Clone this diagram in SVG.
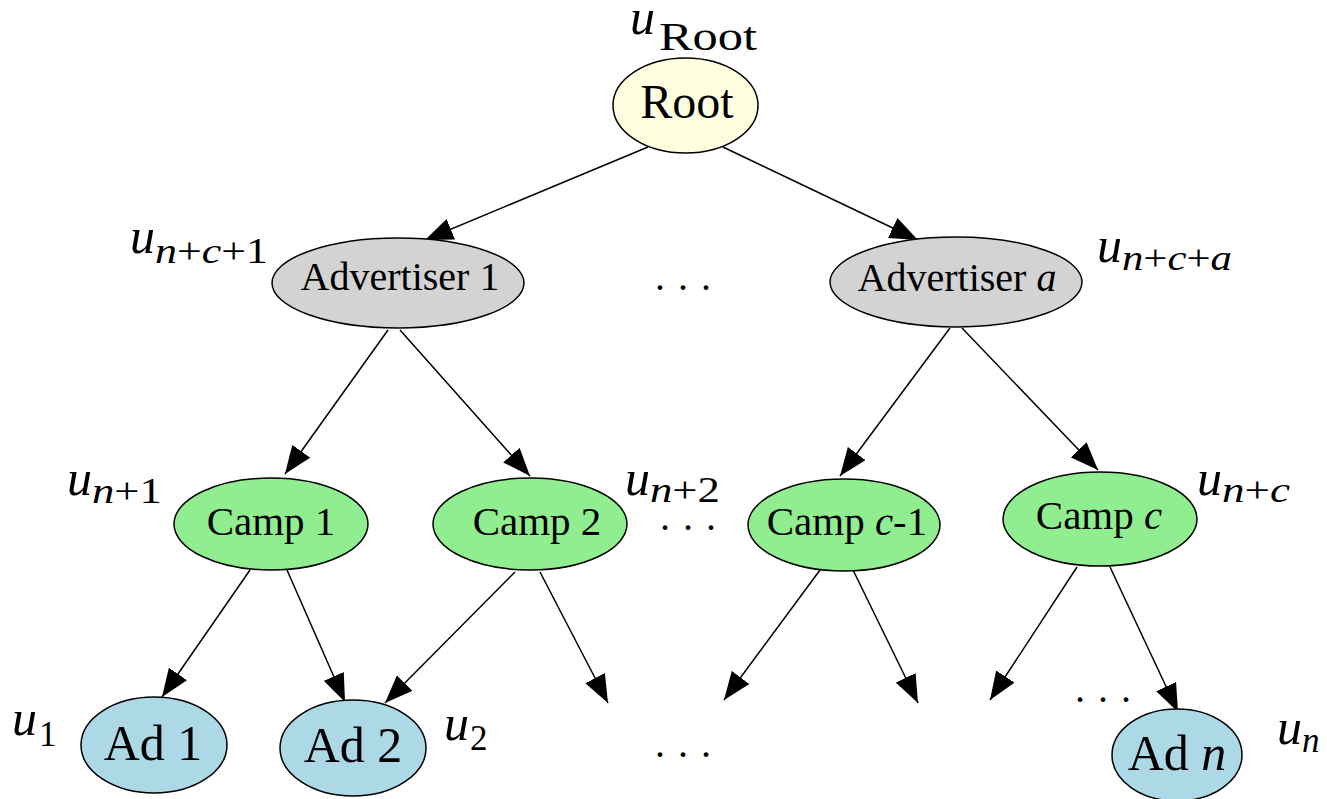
<svg xmlns="http://www.w3.org/2000/svg" width="1327" height="799" viewBox="0 0 1327 799">
<style>
.n{stroke:#000;stroke-width:1.5}
.root{fill:#FFFFE0}.adv{fill:#D3D3D3}.camp{fill:#90EE90}.ad{fill:#ADD8E6}
text{font-family:"Liberation Serif","DejaVu Serif",serif;fill:#000}
.t{text-anchor:middle}
.i{font-style:italic}
.u{font-style:italic;font-size:50px}
.s{font-size:35px}
.e{stroke:#000;stroke-width:1.5;fill:none;marker-end:url(#ah)}
.dots{font-size:40px;letter-spacing:13px}
</style>
<defs>
<marker id="ah" viewBox="0 0 28 22" refX="28" refY="11" markerWidth="28" markerHeight="22" orient="auto" markerUnits="userSpaceOnUse"><path d="M0,0 L28,11 L0,22 Z" fill="#000"/></marker>
</defs>
<g id="connectors">
<line class="e" x1="648" y1="147" x2="425" y2="240"/>
<line class="e" x1="723" y1="147" x2="918" y2="240"/>
<line class="e" x1="388" y1="330" x2="285" y2="474"/>
<line class="e" x1="400" y1="330" x2="530" y2="476"/>
<line class="e" x1="950" y1="328" x2="840" y2="476"/>
<line class="e" x1="962" y1="328" x2="1098" y2="470"/>
<line class="e" x1="250" y1="570" x2="162" y2="697"/>
<line class="e" x1="287" y1="570" x2="345" y2="702"/>
<line class="e" x1="515" y1="572" x2="385" y2="703"/>
<line class="e" x1="540" y1="572" x2="608" y2="703"/>
<line class="e" x1="820" y1="570" x2="724" y2="700"/>
<line class="e" x1="853" y1="570" x2="918" y2="703"/>
<line class="e" x1="1077" y1="567" x2="990" y2="700"/>
<line class="e" x1="1110" y1="567" x2="1178" y2="712"/>
</g>
<g id="root">
<ellipse class="n root" cx="685.5" cy="105.5" rx="72.5" ry="47.5"/>
<text class="t" x="687" y="118" font-size="48">Root</text>
<text x="630" y="34" class="u">u</text>
<text x="659" y="50" font-size="40" textLength="98" lengthAdjust="spacingAndGlyphs">Root</text>
</g>
<g id="adv1">
<ellipse class="n adv" cx="398" cy="283" rx="126" ry="45"/>
<text class="t" x="400" y="290" font-size="40">Advertiser 1</text>
<text x="130" y="253" class="u">u</text>
<text x="155" y="263" class="s" textLength="113" lengthAdjust="spacingAndGlyphs"><tspan class="i">n</tspan>+<tspan class="i">c</tspan>+1</text>
</g>
<g id="adva">
<ellipse class="n adv" cx="956" cy="282" rx="126" ry="45"/>
<text class="t" x="957" y="291" font-size="40">Advertiser <tspan class="i">a</tspan></text>
<text x="1097" y="262" class="u">u</text>
<text x="1122" y="270" class="s" textLength="110" lengthAdjust="spacingAndGlyphs"><tspan class="i">n</tspan>+<tspan class="i">c</tspan>+<tspan class="i">a</tspan></text>
</g>
<g id="camp1">
<ellipse class="n camp" cx="271" cy="524" rx="97" ry="46"/>
<text class="t" x="271" y="535" font-size="41">Camp 1</text>
<text x="67" y="495" class="u">u</text>
<text x="92" y="503" class="s" textLength="70" lengthAdjust="spacingAndGlyphs"><tspan class="i">n</tspan>+1</text>
</g>
<g id="camp2">
<ellipse class="n camp" cx="530" cy="524" rx="97" ry="46"/>
<text class="t" x="537" y="535" font-size="41">Camp 2</text>
<text x="625" y="495" class="u">u</text>
<text x="650" y="502" class="s" textLength="70" lengthAdjust="spacingAndGlyphs"><tspan class="i">n</tspan>+2</text>
</g>
<g id="campc1">
<ellipse class="n camp" cx="844" cy="525" rx="96" ry="46"/>
<text class="t" x="847" y="535" font-size="41">Camp <tspan class="i">c</tspan>-1</text>
</g>
<g id="campc">
<ellipse class="n camp" cx="1100" cy="519" rx="97" ry="47"/>
<text class="t" x="1099" y="529" font-size="41">Camp <tspan class="i">c</tspan></text>
<text x="1197" y="495" class="u">u</text>
<text x="1222" y="502" class="s" textLength="68" lengthAdjust="spacingAndGlyphs"><tspan class="i">n</tspan>+<tspan class="i">c</tspan></text>
</g>
<g id="ad1">
<ellipse class="n ad" cx="154" cy="745" rx="73" ry="48"/>
<text class="t" x="153" y="760" font-size="50">Ad 1</text>
<text x="12" y="735" class="u">u</text>
<text x="39" y="746" class="s">1</text>
</g>
<g id="ad2">
<ellipse class="n ad" cx="353" cy="748" rx="73" ry="48"/>
<text class="t" x="353" y="762" font-size="50">Ad 2</text>
<text x="444" y="740" class="u">u</text>
<text x="470" y="750" class="s">2</text>
</g>
<g id="adn">
<ellipse class="n ad" cx="1177" cy="755" rx="65" ry="46"/>
<text class="t" x="1177" y="770" font-size="50">Ad <tspan class="i">n</tspan></text>
<text x="1277" y="744" class="u">u</text>
<text x="1302" y="752" class="s i">n</text>
</g>
<g id="ellipses">
<text class="dots" x="655" y="290">...</text>
<text class="dots" x="660" y="530">...</text>
<text class="dots" x="655" y="757">...</text>
<text class="dots" x="1075" y="702">...</text>
</g>
</svg>
